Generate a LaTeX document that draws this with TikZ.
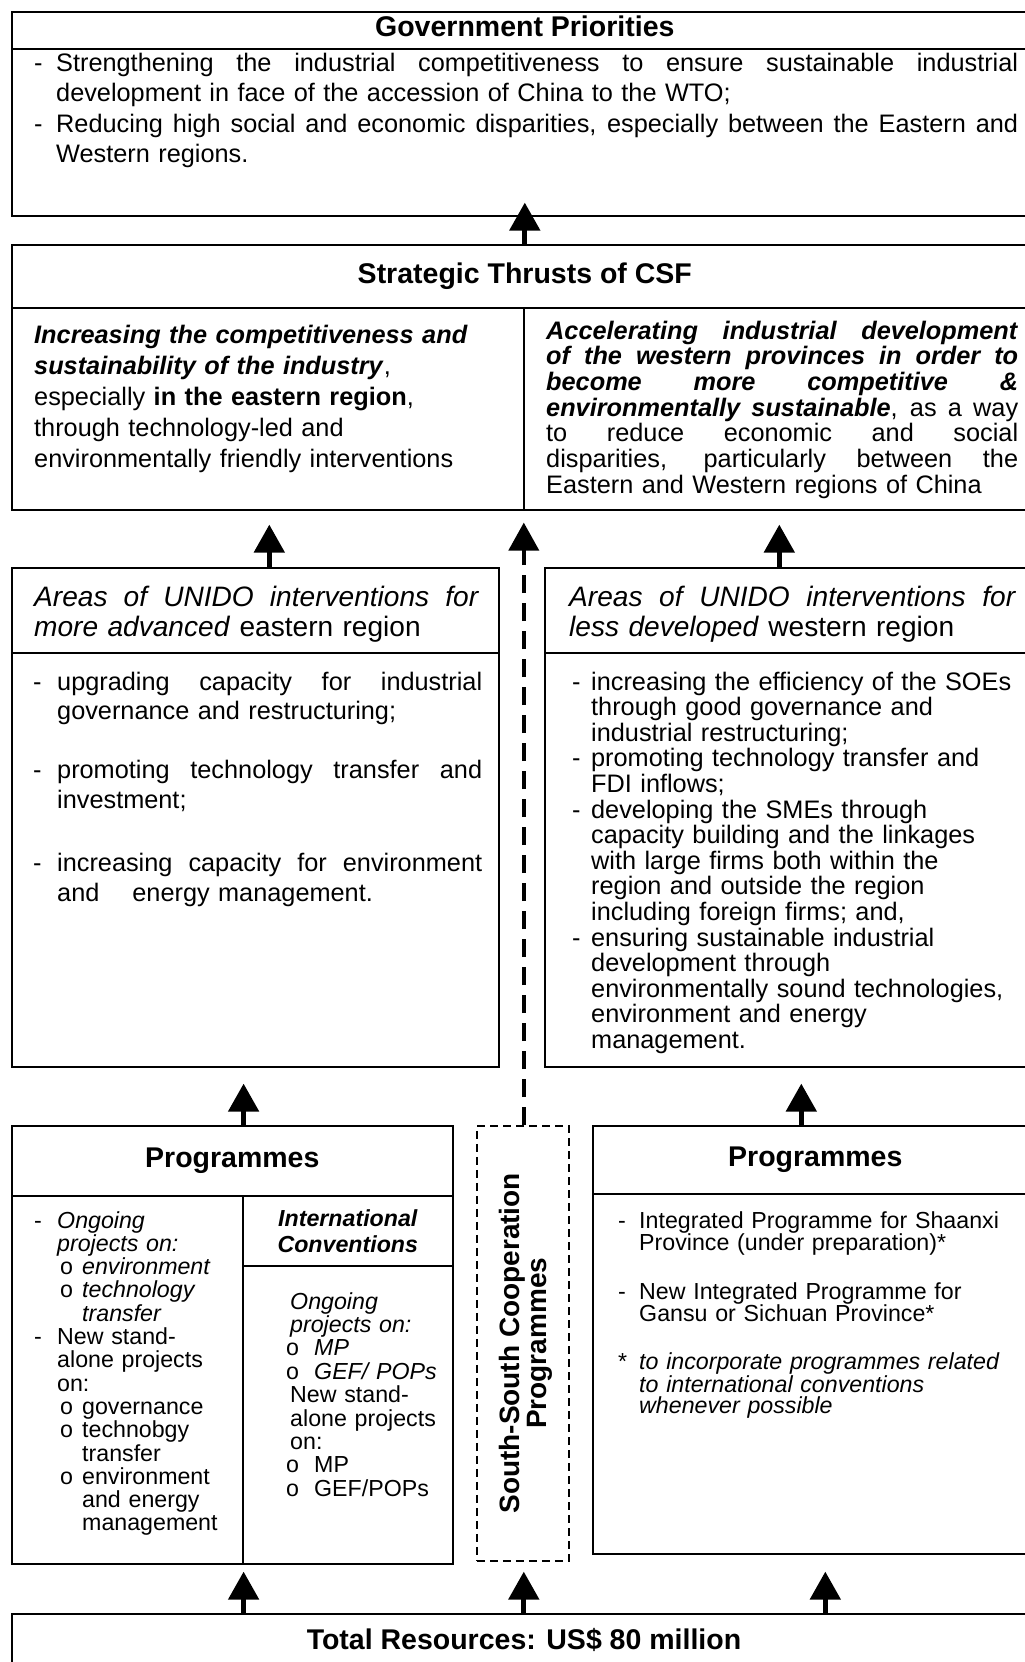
\documentclass[tikz,border=0pt]{standalone}
\usepackage{fontspec}
\setmainfont{Liberation Sans}
\usetikzlibrary{arrows.meta,positioning,calc}

\newcommand{\dsh}[1][22pt]{\makebox[#1][l]{-}}
\newcommand{\dind}[1][22pt]{\hspace*{#1}}
\newcommand{\jst}[2]{\leavevmode\hbox to #1{\spaceskip=0.278em plus 1fil\xspaceskip=0.278em plus 1fil\relax #2}}
\newcommand{\obul}[1][26pt]{\hspace*{#1}\makebox[22pt][l]{o}}

\tikzset{
    box/.style={
        rectangle,
        draw,
        line width=1.6pt,
        inner sep=0pt,
        anchor=north west
    },
    dashbox/.style={box, dash pattern=on 8pt off 5pt},
    titletext/.style={font=\fontsize{28.5}{30}\selectfont\bfseries},
    bodytext/.style={anchor=base west, inner sep=0pt, align=left, font=\fontsize{25.3}{30.5}\selectfont},
    smalltext/.style={anchor=base west, inner sep=0pt, align=left, font=\fontsize{23.2}{23.3}\selectfont},
    uparrow/.style={-{Triangle[length=28pt,width=30pt]}, line width=5pt},
    dasharrow/.style={uparrow, line width=4pt, dash pattern=on 18pt off 10pt}
}

\begin{document}
\begin{tikzpicture}[x=1pt,y=1pt]
    \useasboundingbox (0,0) rectangle (1025,-1662);
    \clip (0,0) rectangle (1025,-1662);

    % Government priorities
    \node[box, titletext, text depth=8pt, minimum width=1026, minimum height=37] (govt) at (11,-11) {Government Priorities};
    \node[box, minimum width=1026, minimum height=167] (govb) at (11,-48) {};
    \node[bodytext, text width=990pt, font=\fontsize{25.3}{30.5}\selectfont] (govtext) at (34,-71) {%
        \dsh\jst{962pt}{Strengthening the industrial competitiveness to ensure sustainable industrial}\\
        \dind development in face of the accession of China to the WTO;\\
        \dsh\jst{962pt}{Reducing high social and economic disparities, especially between the Eastern and}\\
        \dind Western regions.};

    % Strategic thrusts
    \node[box, titletext, minimum width=1026, minimum height=63] (stratt) at (11,-244) {Strategic Thrusts of CSF};
    \node[box, minimum width=512, minimum height=202] (stratl) at (11,-307) {};
    \node[box, minimum width=514, minimum height=202] (stratr) at (523,-307) {};
    \node[bodytext, text width=470pt, font=\fontsize{25.3}{31}\selectfont] (stratltext) at (34,-343) {%
        \textbf{\textit{Increasing the competitiveness and}}\\
        \textbf{\textit{sustainability of the industry}},\\
        especially \textbf{in the eastern region},\\
        through technology-led and\\
        environmentally friendly interventions};
    \node[bodytext, text width=480pt, font=\fontsize{25.3}{25.7}\selectfont] (stratrtext) at (546,-339) {%
        \jst{472pt}{\textbf{\textit{Accelerating industrial development}}}\\
        \jst{472pt}{\textbf{\textit{of the western provinces in order to}}}\\
        \jst{472pt}{\textbf{\textit{become more competitive \&}}}\\
        \jst{472pt}{\textbf{\textit{environmentally sustainable}}, as a way}\\
        \jst{472pt}{to reduce economic and social}\\
        \jst{472pt}{disparities, particularly between the}\\
        Eastern and Western regions of China};

    % Areas of intervention
    \node[box, minimum width=487, minimum height=85] (areaLt) at (11,-567) {};
    \node[box, minimum width=487, minimum height=414] (areaLb) at (11,-652) {};
    \node[box, minimum width=493, minimum height=85] (areaRt) at (544,-567) {};
    \node[box, minimum width=493, minimum height=414] (areaRb) at (544,-652) {};
    \node[bodytext, text width=450pt, font=\fontsize{28.1}{30.5}\selectfont] (areaLhead) at (34,-606) {%
        \jst{445pt}{\textit{Areas of UNIDO interventions for}}\\
        \textit{more advanced} eastern region};
    \node[bodytext, text width=450pt, font=\fontsize{28.1}{30.5}\selectfont] (areaRhead) at (569,-606) {%
        \jst{447pt}{\textit{Areas of UNIDO interventions for}}\\
        \textit{less developed} western region};
    \node[bodytext, text width=455pt, font=\fontsize{25.3}{29.5}\selectfont] (areaLtext) at (33,-690) {%
        \dsh[24pt]\jst{425pt}{upgrading capacity for industrial}\\
        \dind[24pt]governance and restructuring;\\[29.5pt]
        \dsh[24pt]\jst{425pt}{promoting technology transfer and}\\
        \dind[24pt]investment;\\[34pt]
        \dsh[24pt]\jst{425pt}{increasing capacity for environment}\\
        \dind[24pt]and\hspace{33pt}energy management.};
    \node[bodytext, text width=460pt, font=\fontsize{25.3}{25.6}\selectfont] (areaRtext) at (572,-690) {%
        \dsh[19pt]increasing the efficiency of the SOEs\\
        \dind[19pt]through good governance and\\
        \dind[19pt]industrial restructuring;\\
        \dsh[19pt]promoting technology transfer and\\
        \dind[19pt]FDI inflows;\\
        \dsh[19pt]developing the SMEs through\\
        \dind[19pt]capacity building and the linkages\\
        \dind[19pt]with large firms both within the\\
        \dind[19pt]region and outside the region\\
        \dind[19pt]including foreign firms; and,\\
        \dsh[19pt]ensuring sustainable industrial\\
        \dind[19pt]development through\\
        \dind[19pt]environmentally sound technologies,\\
        \dind[19pt]environment and energy\\
        \dind[19pt]management.};

    % Programmes (eastern)
    \node[box, titletext, minimum width=441, minimum height=70] (progLt) at (11,-1125) {Programmes};
    \node[box, minimum width=231, minimum height=368] (progLa) at (11,-1195) {};
    \node[box, minimum width=210, minimum height=70, align=center,
          font=\fontsize{23.2}{26}\selectfont\bfseries\itshape] (progLc) at (242,-1195) {International\\Conventions};
    \node[box, minimum width=210, minimum height=298] (progLd) at (242,-1265) {};
    \node[smalltext, text width=205pt] (progLatext) at (34,-1228) {%
        \dsh[23pt]\textit{Ongoing}\\
        \dind[23pt]\textit{projects on:}\\
        \obul\textit{environment}\\
        \obul\textit{technology}\\
        \dind[48pt]\textit{transfer}\\
        \dsh[23pt]New stand-\\
        \dind[23pt]alone projects\\
        \dind[23pt]on:\\
        \obul governance\\
        \obul technobgy\\
        \dind[48pt]transfer\\
        \obul environment\\
        \dind[48pt]and energy\\
        \dind[48pt]management};
    \node[smalltext, text width=165pt, font=\fontsize{23.2}{23.4}\selectfont] (progLdtext) at (286,-1309) {%
        \dind[4pt]\textit{Ongoing}\\
        \dind[4pt]\textit{projects on:}\\
        \makebox[28pt][l]{o}\textit{MP}\\
        \makebox[28pt][l]{o}\textit{GEF/ POPs}\\
        \dind[4pt]New stand-\\
        \dind[4pt]alone projects\\
        \dind[4pt]on:\\
        \makebox[28pt][l]{o}MP\\
        \makebox[28pt][l]{o}GEF/POPs};

    % South-South cooperation
    \node[dashbox, minimum width=92, minimum height=435] (ssc) at (476,-1125) {};
    \node[rotate=90, align=center, inner sep=0pt, font=\fontsize{28}{26.5}\selectfont\bfseries] (ssctext) at ([xshift=3pt]ssc.center) {South-South Cooperation\\Programmes};

    % Programmes (western)
    \node[box, titletext, minimum width=445, minimum height=68] (progRt) at (592,-1125) {Programmes};
    \node[box, minimum width=445, minimum height=360] (progRb) at (592,-1193) {};
    \node[smalltext, text width=420pt, font=\fontsize{23.2}{21.5}\selectfont] (progRtext) at (618,-1228) {%
        \dsh[21pt]Integrated Programme for Shaanxi\\
        \dind[21pt]Province (under preparation)*\\[26pt]
        \dsh[21pt]New Integrated Programme for\\
        \dind[21pt]Gansu or Sichuan Province*\\[26pt]
        \makebox[21pt][l]{*}\textit{to incorporate programmes related}\\
        \dind[21pt]\textit{to international conventions}\\
        \dind[21pt]\textit{whenever possible}};

    % Total resources
    \node[box, minimum width=1026, minimum height=60] (total) at (11,-1613) {};
    \node[titletext, inner sep=0pt] (totaltext) at (524,-1640) {Total Resources: US\$ 80 million};

    % Arrows
    \draw[uparrow] (stratt.north) -- ([yshift=14pt]govb.south);
    \draw[uparrow, shorten >=14pt] ([xshift=14pt]areaLt.north) -- ([xshift=14pt]areaLt.north |- stratl.south);
    \draw[uparrow, shorten >=14pt] ([xshift=-12pt]areaRt.north) -- ([xshift=-12pt]areaRt.north |- stratr.south);
    \draw[dasharrow, shorten >=12pt] ([xshift=1pt]ssc.north) -- ([xshift=1pt]ssc.north |- stratl.south);
    \draw[uparrow, shorten >=16pt] (progLt.north -| progLa.east) -- (progLa.east |- areaLb.south);
    \draw[uparrow, shorten >=16pt] ([xshift=-14pt]progRt.north) -- ([xshift=-14pt]progRt.north |- areaRb.south);
    \draw[uparrow, shorten >=7pt] (total.north -| progLa.east) -- (progLa.south east);
    \draw[uparrow, shorten >=10pt] ([xshift=1pt]ssc.south |- total.north) -- ([xshift=1pt]ssc.south);
    \draw[uparrow, shorten >=17pt] ([xshift=10pt]progRb.south |- total.north) -- ([xshift=10pt]progRb.south);
\end{tikzpicture}
\end{document}
